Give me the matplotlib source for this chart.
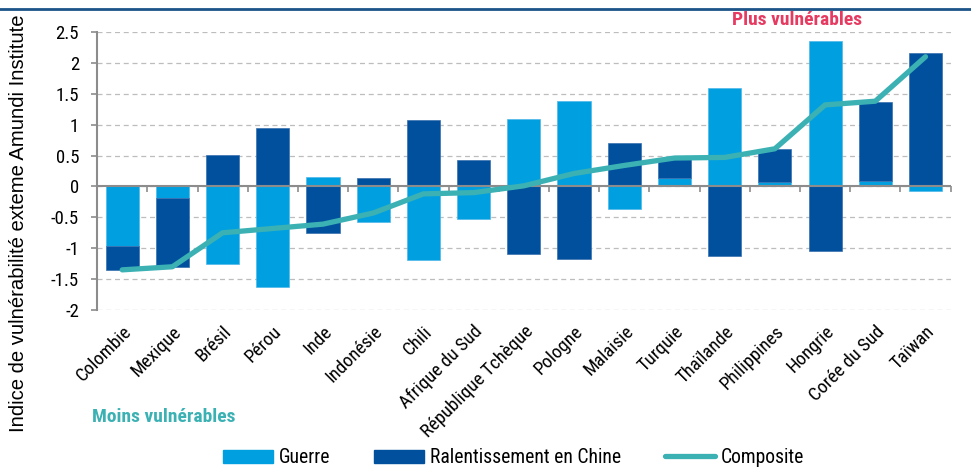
import matplotlib
matplotlib.use("Agg")
import matplotlib.pyplot as plt
from matplotlib.patches import Patch
from matplotlib.lines import Line2D
import numpy as np

COND = ['Roboto Condensed', 'Liberation Sans', 'DejaVu Sans']
plt.rcParams['font.family'] = COND

countries = ["Colombie", "Mexique", "Brésil", "Pérou", "Inde", "Indonésie", "Chili",
             "Afrique du Sud", "République Tchèque", "Pologne", "Malaisie", "Turquie",
             "Thaïlande", "Philippines", "Hongrie", "Corée du Sud", "Taïwan"]
guerre = [-0.97, -0.19, -1.26, -1.63, 0.15, -0.57, -1.19, -0.53, 1.09, 1.39, -0.36,
          0.14, 1.60, 0.065, 2.36, 0.09, -0.07]
chine = [-0.38, -1.11, 0.51, 0.95, -0.76, 0.13, 1.07, 0.43, -1.09, -1.17, 0.70,
         0.30, -1.13, 0.545, -1.04, 1.28, 2.16]
composite = [-1.35, -1.30, -0.75, -0.68, -0.61, -0.43, -0.12, -0.10, 0.01, 0.21, 0.34,
             0.46, 0.47, 0.61, 1.32, 1.38, 2.10]
yticks = [2.5, 2, 1.5, 1, 0.5, 0, -0.5, -1, -1.5, -2]

c_light = "#00A0E0"
c_dark = "#00509D"
c_line = "#3BB1B4"

fig = plt.figure(figsize=(9.71, 4.68), dpi=100)
ax = fig.add_axes([0.1, 0.3376, 0.879, 0.594])

x = np.arange(len(countries))
g = np.array(guerre)
c = np.array(chine)
bottom_c = np.where(np.sign(g) == np.sign(c), g, 0.0)

ax.set_ylim(-2, 2.5)
ax.set_xlim(-0.5, len(countries) - 0.5)
ax.set_yticks(yticks)
ax.set_yticklabels([f"{v:g}" for v in yticks], fontsize=13.5)
ax.yaxis.grid(True, linestyle=(0, (4, 3)), color="#BDBDBD", linewidth=0.9)
ax.set_axisbelow(True)

w = 0.66
ax.bar(x, g, width=w, color=c_light, edgecolor="#4FB8EA", linewidth=0.5, zorder=2)
ax.bar(x, c, width=w, bottom=bottom_c, color=c_dark, edgecolor="#3A6FB0", linewidth=0.5, zorder=2)
ax.axhline(0, color="#8C8C8C", linewidth=1.5, zorder=3)
ax.plot(x, composite, color=c_line, linewidth=3.8, solid_capstyle="round", zorder=4)

for s in ["top", "right", "bottom"]:
    ax.spines[s].set_visible(False)
ax.spines["left"].set_color("#8C8C8C")
ax.spines["left"].set_linewidth(1.5)
ax.tick_params(axis="y", length=4.5, color="#8C8C8C", width=1.2, pad=8.5)

ax.set_xticks(x)
ax.set_xticklabels(countries, rotation=45, ha="right", rotation_mode="anchor", fontsize=13.5)
ax.tick_params(axis="x", length=0, pad=9)

sec = ax.secondary_xaxis(2 / 4.5)
sec.set_xticks(np.arange(len(countries) + 1) - 0.5)
sec.set_xticklabels([])
sec.tick_params(axis="x", length=4, color="#8C8C8C", width=1.2, direction="out")
sec.spines["bottom"].set_visible(False)

fig.text(0.0186, 0.523, "Indice de vulnérabilité exteme Amundi Institute", rotation=90,
         ha="center", va="center", fontsize=14.6, family=['Liberation Sans', 'DejaVu Sans'])
fig.text(0.821, 0.958, "Plus vulnérables", color="#E63A61", fontsize=14, fontweight="bold",
         ha="center", va="center")
fig.text(0.169, 0.110, "Moins vulnérables", color=c_line, fontsize=14, fontweight="bold",
         ha="center", va="center")

fig.add_artist(Line2D([0, 1], [0.980, 0.980], color="#1C5489", linewidth=2, transform=fig.transFigure))

handles = [Patch(facecolor=c_light, edgecolor=c_light),
           Patch(facecolor=c_dark, edgecolor=c_dark),
           Line2D([], [], color=c_line, linewidth=3.8, solid_capstyle="round")]
fig.legend(handles, ["Guerre", "Ralentissement en Chine", "Composite"], loc="center",
           bbox_to_anchor=(0.529, 0.022), ncol=3, frameon=False, fontsize=14.1,
           handlelength=2.55, handleheight=0.65, handletextpad=0.3, columnspacing=2.25,
           borderpad=0.1)

fig.savefig("out.png", dpi=100)
